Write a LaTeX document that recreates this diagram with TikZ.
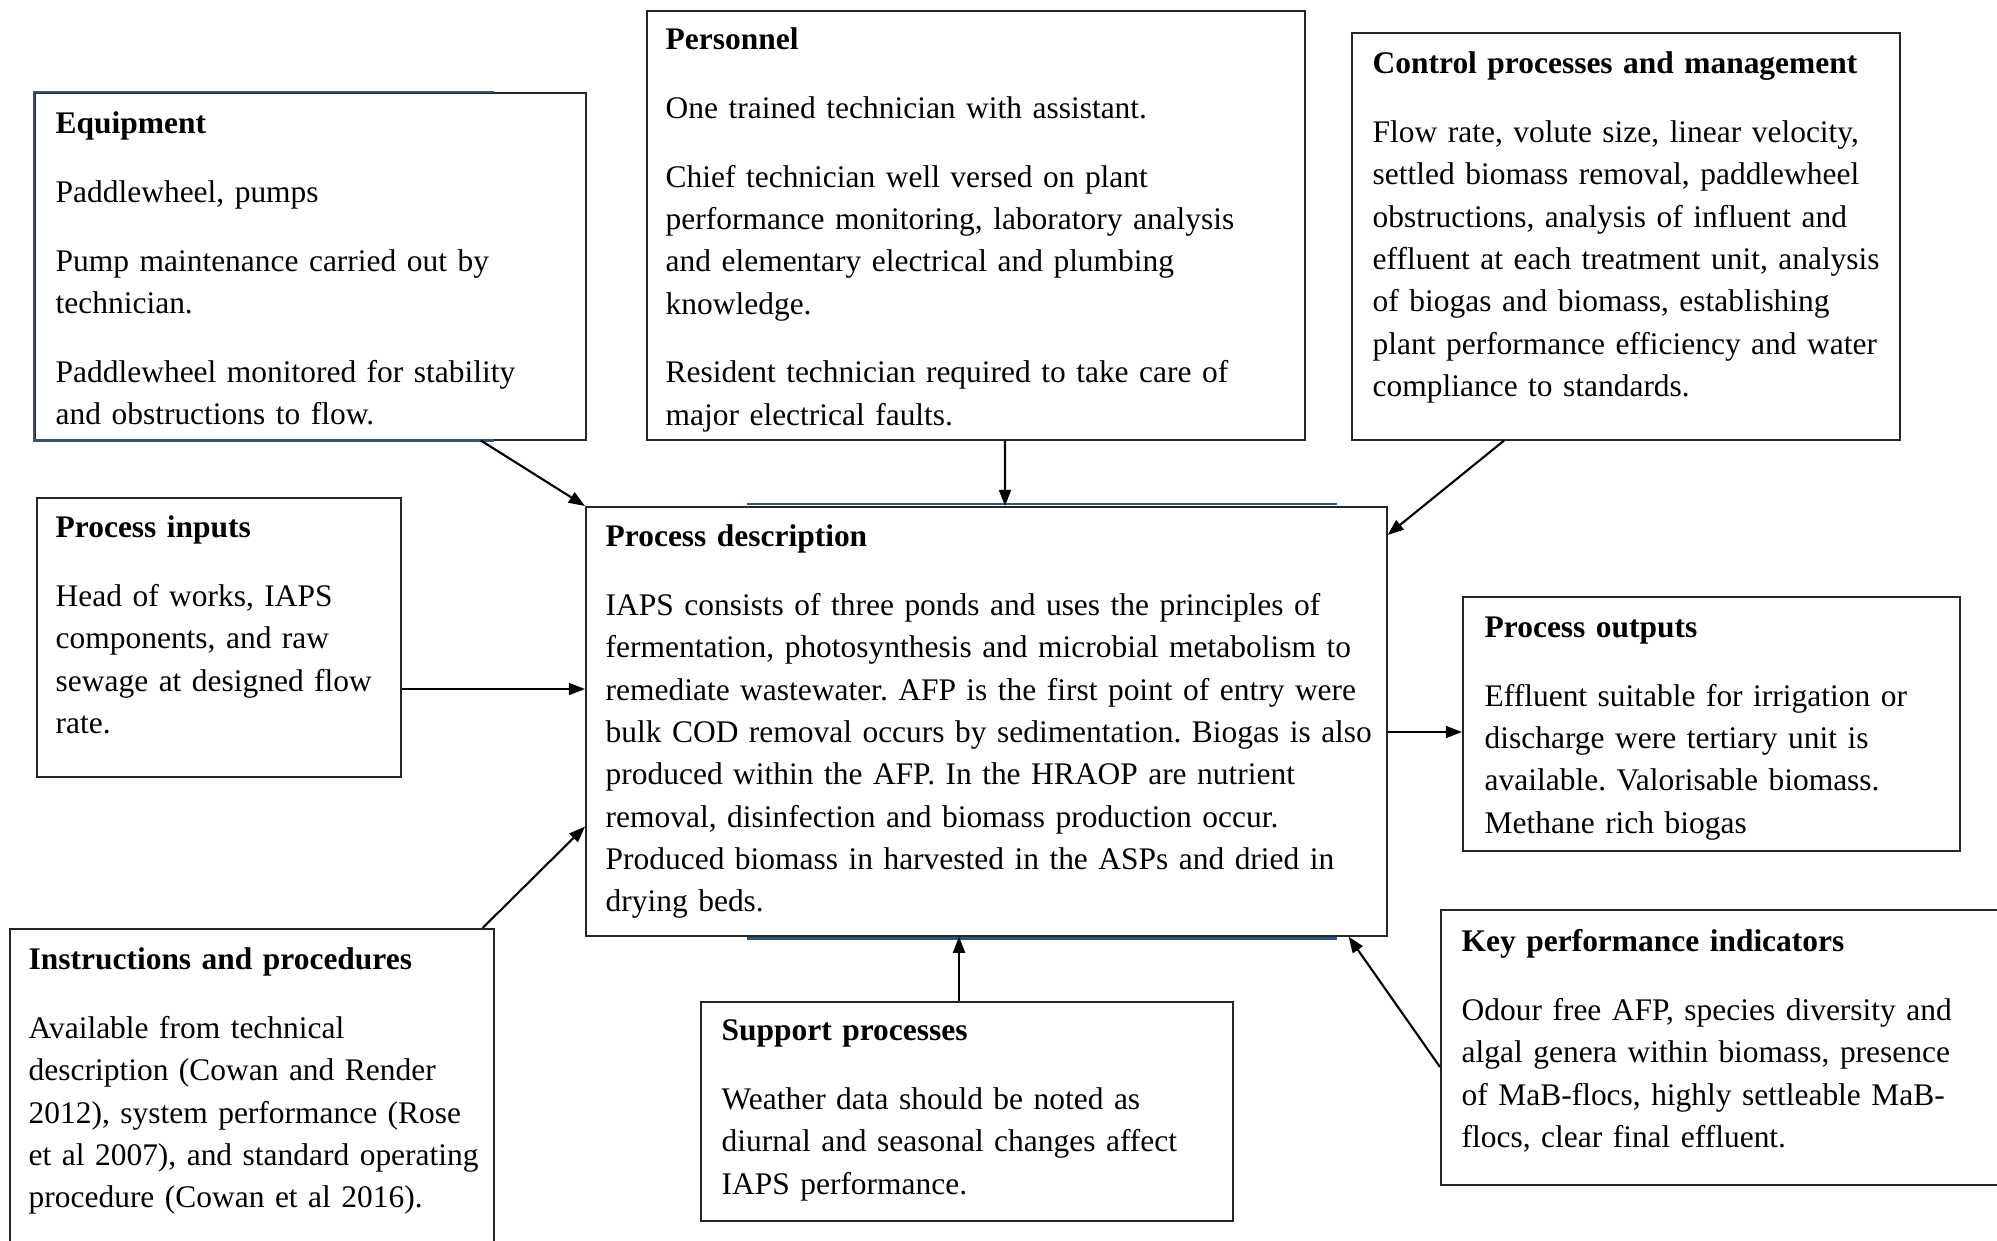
\documentclass[tikz,border=0pt]{standalone}
\usepackage{fontspec}
\setmainfont{Liberation Serif}
\usetikzlibrary{arrows.meta,calc}
\definecolor{edgeblue}{RGB}{52,84,128}
\frenchspacing

\begin{document}
\begin{tikzpicture}[
    box/.style={draw=black!85, line width=0.45pt, anchor=north west, inner sep=0pt},
    txt/.style={anchor=north west, inner sep=0pt, text width=10cm, align=left,
      font=\fontsize{8.95}{12.06}\selectfont},
    arr/.style={-{Triangle[length=4.6pt,width=3.4pt]}, line width=0.6pt},
    rim/.style={edgeblue, line width=0.8pt}]
  \useasboundingbox (0,0) rectangle (19.97,-12.41);
  \fill[white] (0,0) rectangle (19.97,-12.41);
  \foreach \n/\x/\y/\w/\h in {equip/0.34/0.92/5.51/3.47, pers/6.46/0.10/6.58/4.29,
      ctrl/13.51/0.32/5.48/4.07, inp/0.36/4.97/3.64/2.79, pd/5.85/5.06/8.01/4.29,
      outp/14.62/5.96/4.97/2.54, instr/0.09/9.28/4.84/3.40, sup/7.00/10.01/5.32/2.19,
      kpi/14.40/9.09/5.80/2.75}
    \node[box, minimum width=\w cm, minimum height=\h cm] (\n) at (\x,-\y) {};
  \draw[rim] ($(equip.north west)+(4.60,0)$) -- (equip.north west) -- (equip.south west)
    -- ($(equip.south west)+(4.60,0)$);
  \draw[rim] ($(pd.north west)+(1.62,0.02)$) -- ($(pd.north west)+(7.52,0.02)$);
  \draw[rim] ($(pd.south west)+(1.62,-0.02)$) -- ($(pd.south west)+(7.52,-0.02)$);

  \node[txt] (equip-t) at (0.55,-1.11) {\textbf{Equipment}\\[7.5pt]
    Paddlewheel, pumps\\[7.5pt]
    Pump maintenance carried out by\\ technician.\\[7.5pt]
    Paddlewheel monitored for stability\\ and obstructions to flow.};
  \node[txt] (pers-t) at (6.65,-0.27) {\textbf{Personnel}\\[7.5pt]
    One trained technician with assistant.\\[7.5pt]
    Chief technician well versed on plant\\
    performance monitoring, laboratory analysis\\
    and elementary electrical and plumbing\\ knowledge.\\[7.5pt]
    Resident technician required to take care of\\ major electrical faults.};
  \node[txt] (ctrl-t) at (13.72,-0.51) {\textbf{Control processes and management}\\[7.5pt]
    Flow rate, volute size, linear velocity,\\
    settled biomass removal, paddlewheel\\
    obstructions, analysis of influent and\\
    effluent at each treatment unit, analysis\\
    of biogas and biomass, establishing\\
    plant performance efficiency and water\\
    compliance to standards.};
  \node[txt] (inp-t) at (0.55,-5.15) {\textbf{Process inputs}\\[7.5pt]
    Head of works, IAPS\\ components, and raw\\ sewage at designed flow\\ rate.};
  \node[txt] (pd-t) at (6.05,-5.24) {\textbf{Process description}\\[7.5pt]
    IAPS consists of three ponds and uses the principles of\\
    fermentation, photosynthesis and microbial metabolism to\\
    remediate wastewater. AFP is the first point of entry were\\
    bulk COD removal occurs by sedimentation. Biogas is also\\
    produced within the AFP. In the HRAOP are nutrient\\
    removal, disinfection and biomass production occur.\\
    Produced biomass in harvested in the ASPs and dried in\\
    drying beds.};
  \node[txt] (outp-t) at (14.84,-6.16) {\textbf{Process outputs}\\[7.5pt]
    Effluent suitable for irrigation or\\ discharge were tertiary unit is\\
    available. Valorisable biomass.\\ Methane rich biogas};
  \node[txt] (instr-t) at (0.28,-9.47) {\textbf{Instructions and procedures}\\[7.5pt]
    Available from technical\\ description (Cowan and Render\\
    2012), system performance (Rose\\ et al 2007), and standard operating\\
    procedure (Cowan et al 2016).};
  \node[txt] (sup-t) at (7.21,-10.19) {\textbf{Support processes}\\[7.5pt]
    Weather data should be noted as\\ diurnal and seasonal changes affect\\
    IAPS performance.};
  \node[txt] (kpi-t) at (14.61,-9.29) {\textbf{Key performance indicators}\\[7.5pt]
    Odour free AFP, species diversity and\\ algal genera within biomass, presence\\
    of MaB-flocs, highly settleable MaB-\\ flocs, clear final effluent.};

  \coordinate (inp-out) at ($(inp.north east)+(0,-1.92)$);
  \coordinate (pd-out) at ($(pd.north east)+(0,-2.26)$);
  \coordinate (sup-out) at ($(sup.north west)+(2.59,0)$);
  \draw[arr] ($(equip.south west)+(4.47,0)$) -- (pd.north west);
  \draw[arr] ($(pers.south west)+(3.59,0)$) -- ($(pd.north west)+(4.20,0)$);
  \draw[arr] ($(ctrl.south west)+(1.53,0)$) -- ($(pd.north east)+(0,-0.29)$);
  \draw[arr] (inp-out) -- (inp-out -| pd.west);
  \draw[arr] (pd-out) -- (pd-out -| outp.west);
  \draw[arr] ($(instr.north east)+(-0.12,0)$) -- ($(pd.south west)+(0,1.10)$);
  \draw[arr] (sup-out) -- (sup-out |- pd.south);
  \draw[arr] ($(kpi.north west)+(0,-1.58)$) -- ($(pd.south east)+(-0.39,0)$);
\end{tikzpicture}
\end{document}
